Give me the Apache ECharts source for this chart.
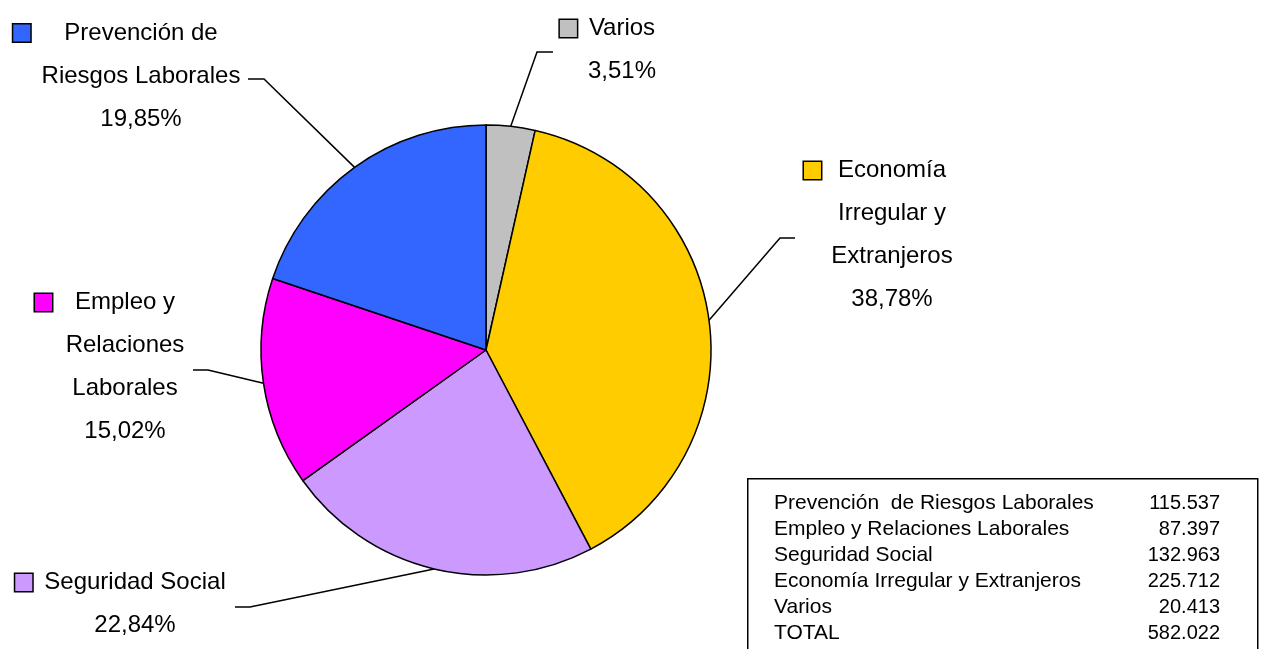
<!DOCTYPE html>
<html>
<head>
<meta charset="utf-8">
<script src="https://cdn.jsdelivr.net/npm/echarts@6/dist/echarts.min.js"></script>
<style>
html,body{margin:0;padding:0;background:#fff;}
#chart{width:1269px;height:649px;}
</style>
</head>
<body>
<div id="chart"></div>
<script>
// ---- data ----
const categories = ['Varios', 'Economía Irregular y Extranjeros', 'Seguridad Social', 'Empleo y Relaciones Laborales', 'Prevención de Riesgos Laborales'];
const values = [20413, 225712, 132963, 87397, 115537];
const percentLabels = ['3,51%', '38,78%', '22,84%', '15,02%', '19,85%'];
const labelTextLines = [
  ['Varios'],
  ['Economía', 'Irregular y', 'Extranjeros'],
  ['Seguridad Social'],
  ['Empleo y', 'Relaciones', 'Laborales'],
  ['Prevención de', 'Riesgos Laborales']
];
const tableNames = ['Prevención  de Riesgos Laborales', 'Empleo y Relaciones Laborales', 'Seguridad Social', 'Economía Irregular y Extranjeros', 'Varios', 'TOTAL'];
const tableOrder = [4, 3, 2, 1, 0]; // indices into categories/values

// ---- styles / layout ----
const colors = ['#C0C0C0', '#FFCC00', '#CC99FF', '#FF00FF', '#3366FF'];
const center = [486, 350];
const radius = 225;
const labelLayoutCfg = [
  { x: 622, y: 50, gap: 12, elbow: [537, 52], end: [553, 52] },
  { x: 892, y: 235, gap: 17, elbow: [780, 238], end: [795, 238] },
  { x: 135, y: 604, gap: 12, elbow: [250, 607], end: [235, 607] },
  { x: 125, y: 367, gap: 23, elbow: [208, 370], end: [193, 370] },
  { x: 141, y: 76, gap: 34, elbow: [264, 79], end: [248, 79] }
];
const SQ = 17;
const FONT = 'Liberation Sans, Arial, sans-serif';

function fmtNum(v) {
  return String(v).replace(/\B(?=(\d{3})+(?!\d))/g, '.');
}

const total = values.reduce((a, b) => a + b, 0);

const pieData = categories.map((name, i) => {
  const cfg = labelLayoutCfg[i];
  const lines = labelTextLines[i];
  let txt = '{sq|}{g|}{t|' + lines[0] + '}{p|}';
  for (let k = 1; k < lines.length; k++) txt += '\n{t|' + lines[k] + '}';
  txt += '\n{t|' + percentLabels[i] + '}';
  return {
    name: name,
    value: values[i],
    itemStyle: { color: colors[i] },
    label: {
      formatter: txt,
      rich: {
        sq: { width: SQ, height: SQ, backgroundColor: colors[i], borderColor: '#000', borderWidth: 1.5, lineHeight: 43 },
        g: { width: cfg.gap, height: 10, lineHeight: 43 },
        p: { width: SQ + cfg.gap, height: 10, lineHeight: 43 },
        t: { fontSize: 24, fontFamily: FONT, color: '#000', lineHeight: 43 }
      }
    }
  };
});

// edge point at mid angle of each slice
function edgePoint(i) {
  let cum = 0;
  for (let k = 0; k < i; k++) cum += values[k];
  const mid = (cum + values[i] / 2) / total;
  const a = mid * 2 * Math.PI;
  return [center[0] + radius * Math.sin(a), center[1] - radius * Math.cos(a)];
}

const graphics = [];
graphics.push({
  type: 'rect',
  left: 747, top: 478,
  shape: { width: 510, height: 200 },
  style: { fill: '#fff', stroke: '#000', lineWidth: 1.5 },
  z: 10
});
const rowValues = tableOrder.map(i => values[i]).concat([total]);
tableNames.forEach((n, r) => {
  graphics.push({
    type: 'text', x: 774, y: 503 + r * 26, z: 11,
    style: { text: n, fontSize: 21, fontFamily: FONT, fill: '#000', textAlign: 'left', textVerticalAlign: 'middle' }
  });
  graphics.push({
    type: 'text', x: 1220, y: 503 + r * 26, z: 11,
    style: { text: fmtNum(rowValues[r]), fontSize: 20, fontFamily: FONT, fill: '#000', textAlign: 'right', textVerticalAlign: 'middle' }
  });
});

const chart = echarts.init(document.getElementById('chart'), null, { renderer: 'canvas' });
chart.setOption({
  backgroundColor: '#fff',
  animation: false,
  series: [{
    type: 'pie',
    center: center,
    radius: radius,
    startAngle: 90,
    clockwise: true,
    avoidLabelOverlap: false,
    itemStyle: { borderColor: '#000', borderWidth: 1.5 },
    label: { show: true, position: 'outside', align: 'center' },
    labelLine: { show: true, length: 20, length2: 15, lineStyle: { color: '#000', width: 1.5 } },
    emphasis: { disabled: true },
    labelLayout: function (params) {
      const cfg = labelLayoutCfg[params.dataIndex];
      const p0 = edgePoint(params.dataIndex);
      return {
        x: cfg.x, y: cfg.y, align: 'center', verticalAlign: 'middle',
        labelLinePoints: [p0, cfg.elbow, cfg.end]
      };
    },
    data: pieData
  }],
  graphic: graphics
});
</script>
</body>
</html>
